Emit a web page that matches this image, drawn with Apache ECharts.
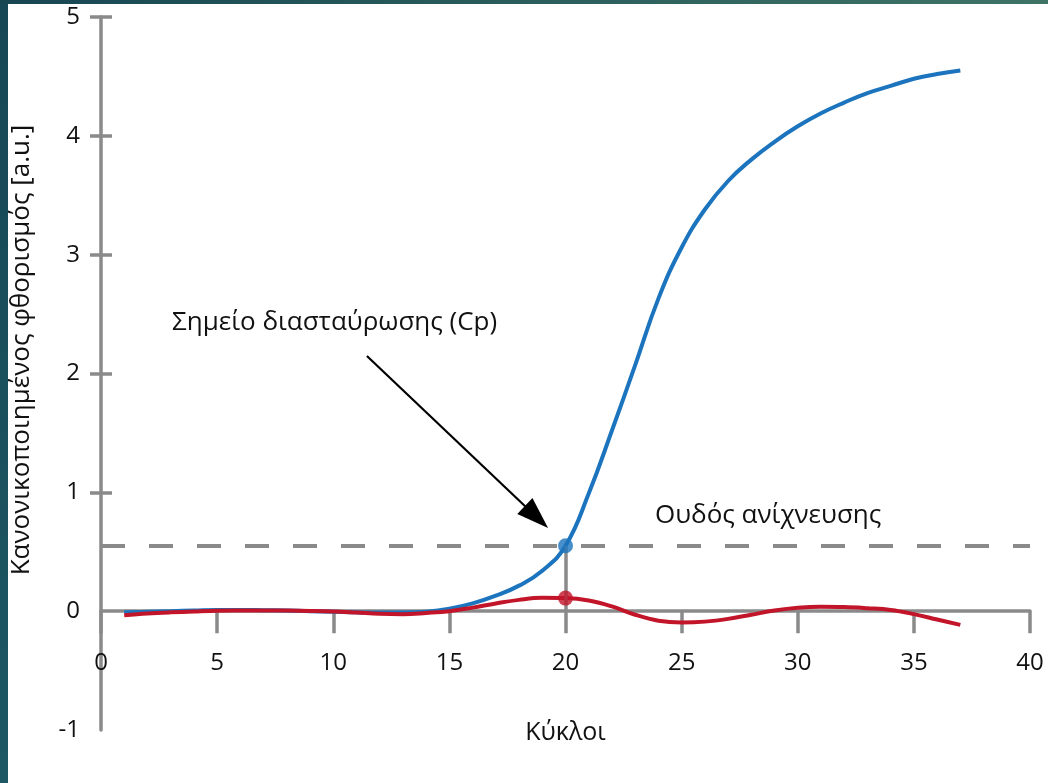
<!DOCTYPE html>
<html>
<head>
<meta charset="utf-8">
<script src="https://cdn.jsdelivr.net/npm/echarts@6/dist/echarts.min.js"></script>
<style>
  html, body { margin: 0; padding: 0; background: #ffffff; }
  #chart { width: 1048px; height: 783px; }
</style>
</head>
<body>
<div id="chart"></div>
<script>
// PCR cycles
const cycles = [1, 2, 3, 4, 5, 6, 7, 8, 9, 10, 11, 12, 13, 14, 15, 16, 17, 18, 19, 20,
                21, 22, 23, 24, 25, 26, 27, 28, 29, 30, 31, 32, 33, 34, 35, 36, 37];

// normalised fluorescence of the amplifying sample
const sampleSignal = [-0.01, -0.005, 0.0, 0.005, 0.01, 0.01, 0.008, 0.005, 0.0, -0.005,
                      -0.01, -0.012, -0.012, -0.005, 0.02, 0.065, 0.13, 0.215, 0.34, 0.55,
                      0.99, 1.52, 2.07, 2.63, 3.06, 3.38, 3.62, 3.80, 3.95, 4.08,
                      4.19, 4.28, 4.36, 4.42, 4.48, 4.52, 4.55];

// normalised fluorescence of the negative control
const controlSignal = [-0.035, -0.02, -0.01, -0.003, 0.003, 0.005, 0.006, 0.005, 0.002, -0.003,
                       -0.012, -0.022, -0.025, -0.015, 0.0, 0.03, 0.065, 0.095, 0.112, 0.11,
                       0.09, 0.04, -0.03, -0.08, -0.095, -0.088, -0.065, -0.03, 0.005, 0.028,
                       0.037, 0.035, 0.025, 0.01, -0.025, -0.07, -0.115];

// detection threshold and crossing point
const threshold = 0.55;
const cpCycle = 20;

// axis ranges and ticks
const xRange = [0, 40];
const yRange = [-1, 5];
const yTickMarks = [1, 2, 3, 4, 5];

// annotation texts
const cpText = 'Σημείο διασταύρωσης (Cp)';
const thresholdText = 'Ουδός ανίχνευσης';
const xTitle = 'Κύκλοι';
const yTitle = 'Κανονικοποιημένος φθορισμός [a.u.]';

// arrow pointing at the crossing point (data coordinates)
const arrowFrom = [11.45, 2.147];
const arrowTo = [18.75, 0.792];

const BLUE = '#1b74bd';
const RED = '#c2152a';
const GREY = '#8a8a8a';
const FONT = '"Open Sans", "Noto Sans", sans-serif';

const W = 1048, H = 783;
const GRID = { left: 101, right: 18, top: 17, bottom: 53 };
// the horizontal axis runs along y = 0, lifted up from the bottom edge of the plot
const plotHeight = H - GRID.top - GRID.bottom;
const xAxisLift = -(0 - yRange[0]) * plotHeight / (yRange[1] - yRange[0]);

const sampleData = cycles.map((c, i) => [c, sampleSignal[i]]);
const controlData = cycles.map((c, i) => [c, controlSignal[i]]);
const cpIndex = cycles.indexOf(cpCycle);

const chart = echarts.init(document.getElementById('chart'), null, { renderer: 'canvas' });

const yAxisBase = {
  type: 'value',
  min: yRange[0],
  max: yRange[1],
  interval: 1,
  position: 'left',
  splitLine: { show: false }
};

chart.setOption({
  animation: false,
  backgroundColor: '#ffffff',
  grid: Object.assign({ containLabel: false, outerBoundsMode: 'none' }, GRID),
  xAxis: {
    type: 'value',
    min: xRange[0],
    max: xRange[1],
    interval: 5,
    position: 'bottom',
    offset: xAxisLift,
    name: xTitle,
    nameLocation: 'middle',
    nameGap: 109,
    nameTextStyle: { fontFamily: FONT, fontSize: 25, color: '#111' },
    axisLine: { onZero: false, lineStyle: { color: GREY, width: 3.5 } },
    axisTick: { show: true, length: 22, lineStyle: { color: GREY, width: 3.5 } },
    axisLabel: { margin: 40, fontFamily: FONT, fontSize: 24, color: '#111' },
    splitLine: { show: false }
  },
  yAxis: [
    Object.assign({}, yAxisBase, {
      axisLine: { show: true, onZero: false, lineStyle: { color: GREY, width: 3.5 } },
      axisTick: { show: true, length: 11, customValues: yTickMarks,
                  lineStyle: { color: GREY, width: 3.5 } },
      axisLabel: { margin: 21, fontFamily: FONT, fontSize: 24, color: '#111' }
    }),
    Object.assign({}, yAxisBase, {
      axisLine: { show: false, onZero: false },
      axisTick: { show: true, inside: true, length: 11, customValues: yTickMarks,
                  lineStyle: { color: GREY, width: 3.5 } },
      axisLabel: { show: false }
    })
  ],
  series: [
    {
      name: 'sample',
      type: 'line',
      data: sampleData,
      smooth: 0.45,
      symbol: 'none',
      lineStyle: { color: BLUE, width: 4 },
      z: 3,
      markLine: {
        silent: true,
        animation: false,
        symbol: ['none', 'none'],
        label: { show: false },
        data: [
          [
            { coord: [xRange[0], threshold], lineStyle: { color: GREY, width: 4, type: [24, 24] } },
            { coord: [xRange[1], threshold] }
          ],
          [
            { coord: [cpCycle, 0], lineStyle: { color: GREY, width: 3.5, type: 'solid' } },
            { coord: [cpCycle, threshold] }
          ]
        ]
      }
    },
    {
      name: 'control',
      type: 'line',
      data: controlData,
      smooth: 0.4,
      symbol: 'none',
      lineStyle: { color: RED, width: 4 },
      z: 4,
      markLine: {
        silent: true,
        animation: false,
        symbol: ['none', 'triangle'],
        symbolSize: 32,
        label: { show: false },
        lineStyle: { color: '#000', width: 2.2, type: 'solid' },
        itemStyle: { color: '#000' },
        data: [[
          { coord: arrowFrom, symbol: 'none' },
          { coord: arrowTo, symbol: 'triangle', symbolSize: [22, 32],
            itemStyle: { color: '#000' } }
        ]]
      }
    },
    {
      name: 'cp-sample',
      type: 'scatter',
      data: [sampleData[cpIndex]],
      symbol: 'circle',
      symbolSize: 15,
      itemStyle: { color: BLUE },
      z: 6
    },
    {
      name: 'cp-control',
      type: 'scatter',
      data: [controlData[cpIndex]],
      symbol: 'circle',
      symbolSize: 15,
      itemStyle: { color: RED },
      z: 6
    }
  ],
  graphic: [
    {
      type: 'rect',
      shape: { x: 0, y: 0, width: 8, height: H },
      style: {
        fill: new echarts.graphic.LinearGradient(0, 0, 0, 1, [
          { offset: 0, color: '#174754' },
          { offset: 1, color: '#1d5864' }
        ])
      },
      z: 100
    },
    {
      type: 'rect',
      shape: { x: 0, y: 0, width: W, height: 4 },
      style: {
        fill: new echarts.graphic.LinearGradient(0, 0, 1, 0, [
          { offset: 0, color: '#174652' },
          { offset: 1, color: '#3e7466' }
        ])
      },
      z: 100
    },
    {
      type: 'text',
      x: 22,
      y: 350,
      rotation: Math.PI / 2,
      style: {
        text: yTitle,
        fontFamily: FONT,
        fontSize: 26,
        fill: '#111',
        textAlign: 'center',
        textVerticalAlign: 'middle'
      }
    },
    {
      type: 'text',
      x: 172,
      y: 323,
      style: {
        text: cpText,
        fontFamily: FONT,
        fontSize: 26,
        fill: '#111',
        textAlign: 'left',
        textVerticalAlign: 'middle'
      }
    },
    {
      type: 'text',
      x: 655,
      y: 516,
      style: {
        text: thresholdText,
        fontFamily: FONT,
        fontSize: 26,
        fill: '#111',
        textAlign: 'left',
        textVerticalAlign: 'middle'
      }
    }
  ]
});
</script>
</body>
</html>
